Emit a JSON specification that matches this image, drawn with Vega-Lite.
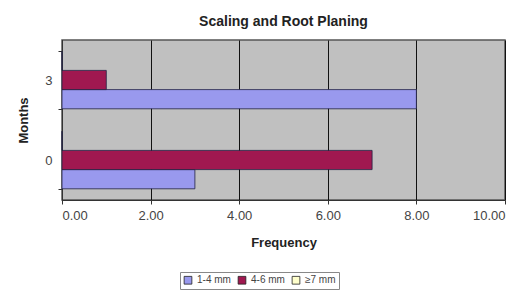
{
  "$schema": "https://vega.github.io/schema/vega-lite/v6.json",
  "autosize": {"type": "none"},
  "padding": {"left": 62, "top": 40, "right": 17, "bottom": 101},
  "width": 443,
  "height": 160,
  "background": "white",
  "config": {
    "font": "Liberation Sans",
    "view": {"fill": "#c0c0c0", "stroke": "#555555", "strokeWidth": 1.5}
  },
  "title": {
    "text": "Scaling and Root Planing",
    "fontSize": 14,
    "fontWeight": "bold",
    "color": "#222222",
    "anchor": "middle",
    "offset": 5
  },
  "data": {
    "values": [
      {"month": "3", "size": "1-4 mm", "freq": 8},
      {"month": "3", "size": "4-6 mm", "freq": 1},
      {"month": "3", "size": "≥7 mm", "freq": 0},
      {"month": "0", "size": "1-4 mm", "freq": 3},
      {"month": "0", "size": "4-6 mm", "freq": 7},
      {"month": "0", "size": "≥7 mm", "freq": 0}
    ]
  },
  "mark": {"type": "bar", "stroke": "#222244", "strokeWidth": 0.8},
  "encoding": {
    "y": {
      "field": "month",
      "type": "nominal",
      "sort": ["3", "0"],
      "scale": {"paddingInner": 0.28, "paddingOuter": 0.14},
      "axis": {
        "title": "Months",
        "titleFontSize": 13,
        "titleFontWeight": "bold",
        "titleColor": "#222222",
        "titlePadding": 14,
        "labelFontSize": 13,
        "labelColor": "#444444",
        "labelAngle": 0,
        "labelPadding": 6,
        "tickBand": "extent",
        "tickColor": "#333333",
        "tickSize": 4,
        "domainColor": "#333333"
      }
    },
    "yOffset": {
      "field": "size",
      "type": "nominal",
      "scale": {"domain": ["≥7 mm", "4-6 mm", "1-4 mm"]}
    },
    "x": {
      "field": "freq",
      "type": "quantitative",
      "scale": {"domain": [0, 10], "nice": false},
      "axis": {
        "title": "Frequency",
        "titleFontSize": 13,
        "titleFontWeight": "bold",
        "titleColor": "#222222",
        "titlePadding": 14,
        "format": ".2f",
        "values": [0, 2, 4, 6, 8, 10],
        "labelFontSize": 13,
        "labelColor": "#444444",
        "labelPadding": 5,
        "grid": true,
        "gridColor": "#111111",
        "gridWidth": 1,
        "tickColor": "#333333",
        "tickSize": 4,
        "domainColor": "#333333"
      }
    },
    "color": {
      "field": "size",
      "type": "nominal",
      "scale": {
        "domain": ["1-4 mm", "4-6 mm", "≥7 mm"],
        "range": ["#9999ee", "#a01850", "#ffffcc"]
      },
      "legend": {
        "title": null,
        "orient": "none",
        "legendX": 118,
        "legendY": 232,
        "direction": "horizontal",
        "symbolType": "square",
        "symbolSize": 60,
        "symbolStrokeColor": "#222222",
        "symbolStrokeWidth": 0.8,
        "labelFontSize": 10,
        "labelColor": "#444444",
        "columnPadding": 5,
        "padding": 3,
        "strokeColor": "#888888",
        "fillColor": "white"
      }
    }
  }
}
